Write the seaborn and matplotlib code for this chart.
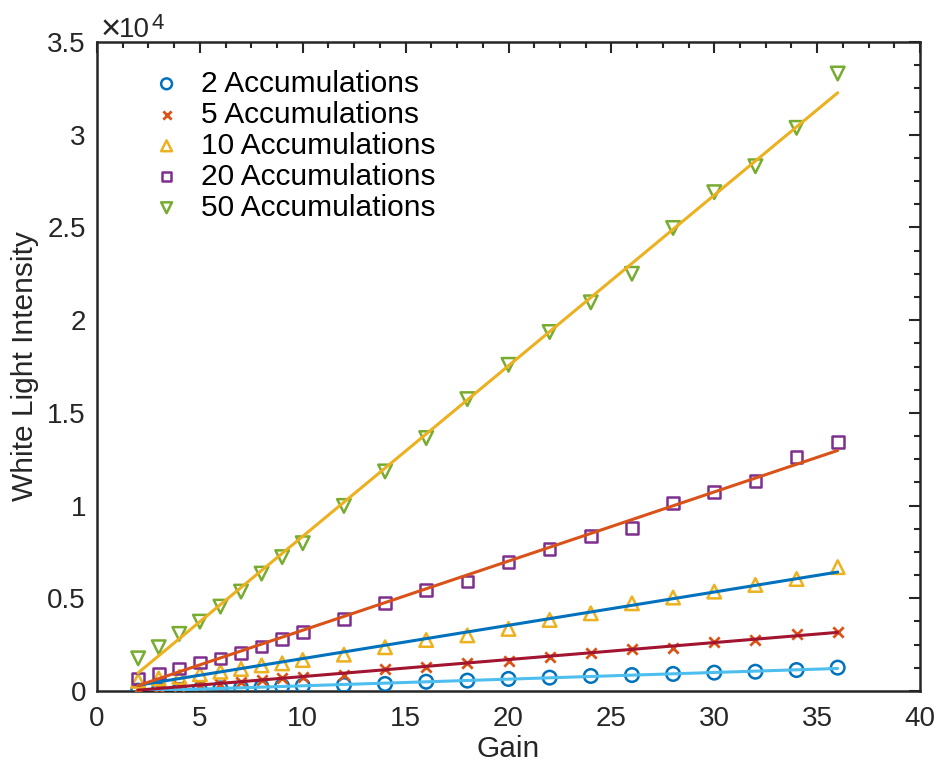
import numpy as np
import pandas as pd
import matplotlib
matplotlib.use("Agg")
import matplotlib.pyplot as plt
from matplotlib.ticker import MultipleLocator, FuncFormatter
from matplotlib.transforms import offset_copy
import seaborn as sns

# ---------------- data ----------------
gain = [2, 3, 4, 5, 6, 7, 8, 9, 10, 12, 14, 16, 18, 20, 22, 24, 26, 28, 30, 32, 34, 36]

acc2 = [20, 40, 60, 80, 140, 170, 220, 260, 280, 320, 380, 500, 560, 650, 720, 810,
        860, 920, 990, 1040, 1130, 1260]
acc5 = [100, 170, 250, 330, 400, 480, 600, 720, 760, 880, 1170, 1310, 1490, 1640, 1850,
        2070, 2280, 2340, 2660, 2750, 3060, 3200]
acc10 = [550, 680, 760, 900, 1040, 1190, 1380, 1490, 1670, 1960, 2360, 2750, 3000, 3350,
         3830, 4190, 4730, 5040, 5360, 5720, 6040, 6680]
acc20 = [680, 950, 1220, 1540, 1750, 2060, 2390, 2810, 3170, 3870, 4730, 5450, 5900, 6950,
         7650, 8350, 8780, 10150, 10740, 11330, 12630, 13420]
acc50 = [1760, 2360, 3080, 3740, 4550, 5360, 6330, 7220, 7970, 9980, 11840, 13640, 15740,
         17590, 19360, 20960, 22500, 24970, 26900, 28300, 30370, 33300]

labels = ["2 Accumulations", "5 Accumulations", "10 Accumulations",
          "20 Accumulations", "50 Accumulations"]
series = [acc2, acc5, acc10, acc20, acc50]

x_ticks = [0, 5, 10, 15, 20, 25, 30, 35, 40]
y_ticks = [0, 5000, 10000, 15000, 20000, 25000, 30000, 35000]

# ---------------- style ----------------
sns.set_theme(style="white")
plt.rcParams["font.family"] = ["Liberation Sans", "DejaVu Sans"]

FS = 20
LFS = 21.5
TXT = "#262626"

marker_colors = ["#0072BD", "#D95319", "#EDB120", "#7E2F8E", "#77AC30"]
line_colors = ["#4DBEEE", "#A2142F", "#0072BD", "#D95319", "#EDB120"]
markers = ["o", "x", "^", "s", "v"]
sizes = [95, 55, 95, 70, 95]

fig = plt.figure(figsize=(9.41, 7.72), dpi=100)
ax = fig.add_axes([97 / 941, 1 - 691 / 772, (920 - 97) / 941, (691 - 42) / 772])

df = pd.DataFrame({"Gain": gain})
for lab, vals in zip(labels, series):
    df[lab] = vals

# markers
for lab, m, c, s in zip(labels, markers, marker_colors, sizes):
    if m == "x":
        sns.scatterplot(data=df, x="Gain", y=lab, ax=ax, marker=m, s=s,
                        color=c, linewidth=2.0, label=lab, zorder=3)
    else:
        sns.scatterplot(data=df, x="Gain", y=lab, ax=ax, marker=m, s=s,
                        facecolor="none", edgecolor=c, linewidth=1.8,
                        label=lab, zorder=3)

# linear fits
for lab, c in zip(labels, line_colors):
    sns.regplot(data=df, x="Gain", y=lab, ax=ax, scatter=False, ci=None,
                truncate=True, line_kws=dict(color=c, lw=2.2, zorder=4))

ax.set_xlim(0, 40)
ax.set_ylim(0, 35000)
ax.set_xticks(x_ticks)
ax.set_yticks(y_ticks)
ax.xaxis.set_minor_locator(MultipleLocator(1.25))
ax.yaxis.set_minor_locator(MultipleLocator(1250))
ax.yaxis.set_major_formatter(FuncFormatter(lambda v, p: f"{v / 1e4:g}"))
ax.xaxis.set_major_formatter(FuncFormatter(lambda v, p: f"{v:g}"))

ax.tick_params(which="both", direction="in", top=True, right=True,
               colors=TXT, labelsize=FS, width=1.5)
ax.tick_params(which="major", length=8)
ax.tick_params(axis="x", which="major", pad=11)
ax.tick_params(axis="y", which="major", pad=8)
ax.tick_params(which="minor", length=4)
for sp in ax.spines.values():
    sp.set_color(TXT)
    sp.set_linewidth(1.8)

ax.set_xlabel("Gain", fontsize=LFS, color=TXT, labelpad=2)
ax.set_ylabel("White Light Intensity", fontsize=LFS, color=TXT, labelpad=6)

# exponent label (x10^4)
def off(dx, dy):
    return offset_copy(ax.transAxes, fig=fig, x=dx, y=dy, units="dots")

ax.text(0.0, 1.0, "\u00d7", transform=off(4, 3), ha="left", va="baseline",
        fontsize=25, color=TXT)
ax.text(0.0, 1.0, "10", transform=off(22, 5), ha="left", va="baseline",
        fontsize=FS, color=TXT)
ax.text(0.0, 1.0, "4", transform=off(54, 13), ha="left", va="baseline",
        fontsize=FS * 0.8, color=TXT)

leg = ax.legend(loc="upper left", bbox_to_anchor=(0.041, 0.985), frameon=False,
                fontsize=LFS, labelspacing=0.1, handletextpad=0.55,
                handlelength=1.2, markerscale=0.8, borderaxespad=0.2)
for t in leg.get_texts():
    t.set_color("black")

fig.savefig("out.png", dpi=100)
